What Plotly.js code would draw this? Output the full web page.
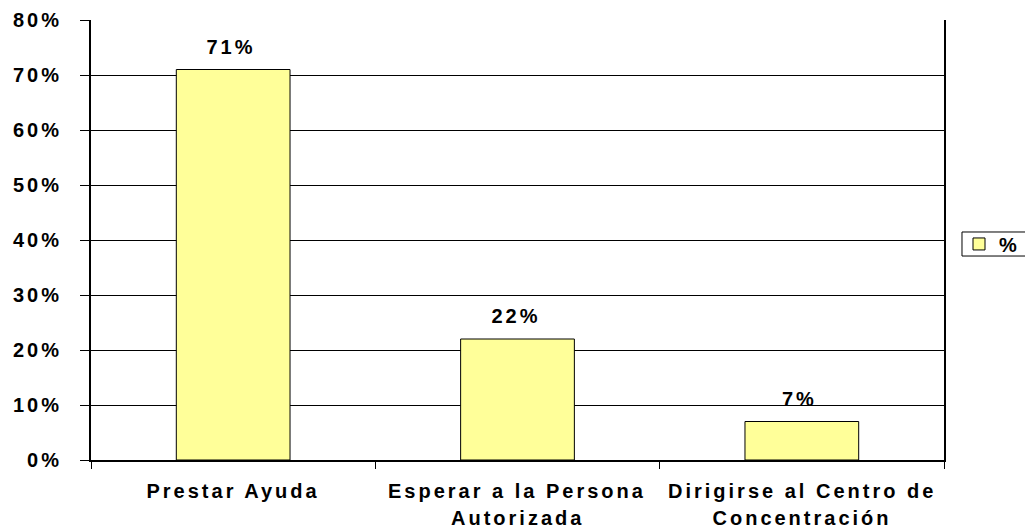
<!DOCTYPE html>
<html>
<head>
<meta charset="utf-8">
<script src="https://cdn.plot.ly/plotly-3.0.1.min.js"></script>
<style>
html, body { margin: 0; padding: 0; background: #fff; }
#chart { width: 1025px; height: 531px; }
.main-svg text { letter-spacing: 3px; }
</style>
</head>
<body>
<div id="chart"></div>
<script>
const categories = ["Prestar Ayuda", "Esperar a la Persona<br>Autorizada", "Dirigirse al Centro de<br>Concentración"];
const values = [0.71, 0.22, 0.07];
const valueLabels = ["71%", "22%", "7%"];
const seriesName = "%";

const boldFont = {family: "Liberation Sans, Arial, sans-serif", size: 20, color: "#000", weight: 700};

const trace = {
  type: "bar",
  x: categories,
  y: values,
  name: seriesName,
  width: 0.4,
  marker: {color: "#FFFF99", line: {color: "#000", width: 1}},
  hoverinfo: "none"
};

const annotations = [];
// value labels above bars
categories.forEach((c, i) => {
  annotations.push({
    x: c, y: values[i], xref: "x", yref: "y",
    text: valueLabels[i], showarrow: false,
    xanchor: "center", yanchor: "bottom", yshift: 10, xshift: -2,
    font: boldFont
  });
});
// category labels, one annotation per line
categories.forEach((c) => {
  c.split("<br>").forEach((line, j) => {
    annotations.push({
      x: c, y: 0, xref: "x", yref: "paper",
      text: line, showarrow: false,
      xanchor: "center", yanchor: "middle", yshift: -31 - 27 * j,
      font: boldFont
    });
  });
});

const layout = {
  width: 1025,
  height: 531,
  margin: {l: 91, r: 81, t: 20, b: 71, pad: 0, autoexpand: false},
  paper_bgcolor: "#fff",
  plot_bgcolor: "#fff",
  showlegend: true,
  font: boldFont,
  annotations: annotations,
  shapes: [{
    type: "rect", xref: "paper", yref: "paper",
    x0: 1.0211, x1: 1.12, y0: 0.4636, y1: 0.5182,
    line: {color: "#000", width: 1}, fillcolor: "rgba(0,0,0,0)", layer: "above"
  }],
  xaxis: {
    type: "category",
    showline: true,
    linecolor: "#000",
    linewidth: 2,
    ticks: "outside",
    ticklen: 7,
    tickcolor: "#000",
    tickwidth: 1,
    tickson: "boundaries",
    showgrid: false,
    showticklabels: false,
    fixedrange: true
  },
  yaxis: {
    range: [0, 0.8],
    dtick: 0.1,
    tickformat: ".0%",
    showline: true,
    linecolor: "#000",
    linewidth: 2,
    mirror: true,
    ticks: "outside",
    ticklen: 9,
    tickcolor: "#000",
    tickwidth: 1,
    showgrid: true,
    gridcolor: "#000",
    gridwidth: 1,
    zeroline: false,
    tickfont: boldFont,
    ticklabelstandoff: 14,
    fixedrange: true
  },
  legend: {
    x: 1.0176,
    xanchor: "left",
    y: 0.491,
    yanchor: "middle",
    borderwidth: 0,
    bgcolor: "rgba(0,0,0,0)",
    font: boldFont,
    itemwidth: 30
  },
  bargap: 0.6
};

Plotly.newPlot("chart", [trace], layout, {displayModeBar: false, staticPlot: true});
</script>
</body>
</html>
